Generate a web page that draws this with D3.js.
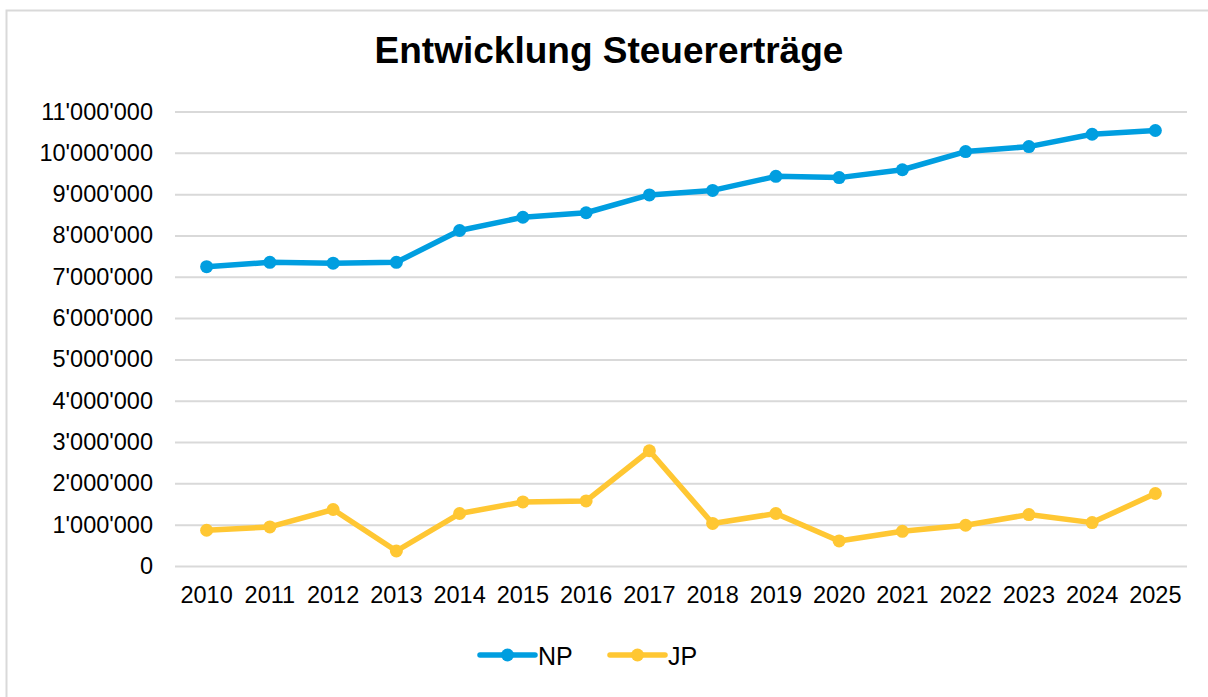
<!DOCTYPE html>
<html>
<head>
<meta charset="utf-8">
<script src="https://cdn.jsdelivr.net/npm/d3@7"></script>
<style>
  html, body { margin: 0; padding: 0; background: #ffffff; }
  svg { display: block; font-family: "Liberation Sans", Arial, sans-serif; }
</style>
</head>
<body>
<svg id="chart" width="1208" height="697"></svg>
<script>
const years = ["2010","2011","2012","2013","2014","2015","2016","2017","2018","2019","2020","2021","2022","2023","2024","2025"];
const npValues = [7245000, 7350000, 7330000, 7350000, 8120000, 8440000, 8550000, 8980000, 9090000, 9430000, 9400000, 9590000, 10030000, 10150000, 10450000, 10540000];
const jpValues = [865000, 945000, 1367000, 363000, 1270000, 1550000, 1575000, 2790000, 1030000, 1270000, 606000, 840000, 986000, 1245000, 1050000, 1754000];
const yTicks = [0, 1000000, 2000000, 3000000, 4000000, 5000000, 6000000, 7000000, 8000000, 9000000, 10000000, 11000000];
const seriesNames = ["NP", "JP"];
const seriesColors = ["#009ee0", "#ffc733"];
const titleText = "Entwicklung Steuererträge";

const svg = d3.select("#chart");
const W = 1208, H = 697;
const plot = { left: 175, right: 1187, top: 111.5, bottom: 566 };

// outer chart border (extends beyond right/bottom of the view)
svg.append("rect")
  .attr("x", 6.5).attr("y", 10.5)
  .attr("width", W + 20).attr("height", H + 20)
  .attr("fill", "#ffffff")
  .attr("stroke", "#d9d9d9").attr("stroke-width", 2);

const x = d3.scaleBand().domain(years).range([plot.left, plot.right]);
const y = d3.scaleLinear().domain([0, 11000000]).range([plot.bottom, plot.top]);

const locale = d3.formatLocale({ decimal: ".", thousands: "'", grouping: [3], currency: ["", ""] });
const fmt = locale.format(",d");

// gridlines
const grid = svg.append("g")
  .attr("transform", `translate(${plot.left},0)`)
  .call(d3.axisLeft(y).tickValues(yTicks).tickSize(-(plot.right - plot.left)).tickFormat(""));
grid.select(".domain").remove();
grid.selectAll("line").attr("stroke", "#d9d9d9").attr("stroke-width", 2);

// y axis labels
const yAxis = svg.append("g")
  .attr("transform", `translate(${plot.left},0)`)
  .call(d3.axisLeft(y).tickValues(yTicks).tickSize(0).tickPadding(22).tickFormat(fmt));
yAxis.select(".domain").remove();
yAxis.selectAll("text")
  .attr("font-family", "'Liberation Sans', Arial, sans-serif")
  .attr("font-size", 23.5).attr("fill", "#000000");

// x axis labels
const xAxis = svg.append("g")
  .attr("transform", `translate(0,${plot.bottom})`)
  .call(d3.axisBottom(x).tickSize(0).tickPadding(20.5));
xAxis.select(".domain").remove();
xAxis.selectAll("text")
  .attr("font-family", "'Liberation Sans', Arial, sans-serif")
  .attr("font-size", 23.5).attr("fill", "#000000");

// title
svg.append("text")
  .attr("x", 609).attr("y", 63)
  .attr("text-anchor", "middle")
  .attr("font-size", 37).attr("font-weight", "bold").attr("fill", "#000000")
  .text(titleText);

// series
const seriesData = [npValues, jpValues];
const line = d3.line()
  .x((d, i) => x(years[i]) + x.bandwidth() / 2)
  .y(d => y(d));

seriesData.forEach((vals, si) => {
  const g = svg.append("g");
  g.append("path")
    .datum(vals)
    .attr("d", line)
    .attr("fill", "none")
    .attr("stroke", seriesColors[si])
    .attr("stroke-width", 5.5)
    .attr("stroke-linejoin", "round")
    .attr("stroke-linecap", "round");
  g.selectAll("circle")
    .data(vals)
    .join("circle")
    .attr("cx", (d, i) => x(years[i]) + x.bandwidth() / 2)
    .attr("cy", d => y(d))
    .attr("r", 6.5)
    .attr("fill", seriesColors[si]);
});

// legend
const legendX = [480, 610];
const legendY = 655;
seriesNames.forEach((name, i) => {
  const g = svg.append("g").attr("transform", `translate(${legendX[i]},${legendY})`);
  g.append("line")
    .attr("x1", 0).attr("x2", 55).attr("y1", 0).attr("y2", 0)
    .attr("stroke", seriesColors[i]).attr("stroke-width", 5.5).attr("stroke-linecap", "round");
  g.append("circle").attr("cx", 27.5).attr("cy", 0).attr("r", 6.5).attr("fill", seriesColors[i]);
  g.append("text")
    .attr("x", 58).attr("y", 9.5)
    .attr("font-size", 25).attr("fill", "#000000")
    .text(name);
});
</script>
</body>
</html>
